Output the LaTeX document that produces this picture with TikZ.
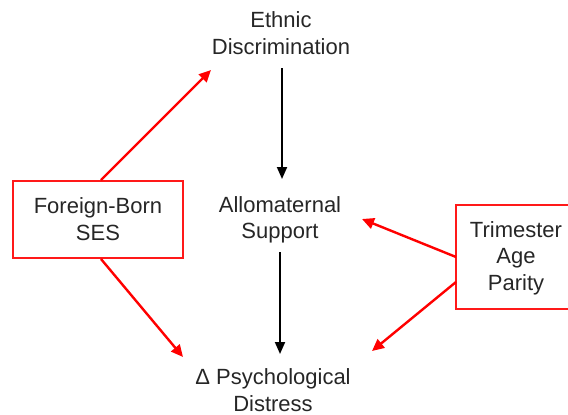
\documentclass[tikz,border=0pt]{standalone}
\usepackage{fontspec}
\setmainfont{Liberation Sans}
\usetikzlibrary{arrows.meta}
\begin{document}
\begin{tikzpicture}[x=1pt,y=-1pt,
  lbl/.style={align=center,font=\fontsize{22}{26.5}\selectfont,text=black!85,inner sep=0pt},
  redbox/.style={draw=red!90!white,line width=1.1pt,inner sep=0pt},
  redarr/.style={draw=red,line width=2.4pt,-{Triangle[length=12pt,width=11pt]}},
  blkarr/.style={draw=black,line width=1.9pt,-{Triangle[length=12pt,width=10pt]}}]
\useasboundingbox (0,0) rectangle (568,415);
% boxes
\draw[redbox] (13,181) rectangle (183,258);
\draw[redbox] (456,205) rectangle (585,309);
% labels
\node[lbl] (eth) at (281,33) {Ethnic\\Discrimination};
\node[lbl] (allo) at (280,220) {Allomaternal\\Support};
\node[lbl] (psy) at (273,390) {Δ Psychological\\Distress};
\node[lbl] (fb) at (98,219) {Foreign-Born\\SES};
\node[lbl] (tri) at (516,258) {Trimester\\Age\\Parity};
% connector end points
\coordinate (fbTop) at (101,180);
\coordinate (fbBot) at (101,259);
\coordinate (triA) at (456,257);
\coordinate (triB) at (456,282);
\coordinate (ethTip) at (211,70);
\coordinate (psyTipL) at (183,357);
\coordinate (alloTipR) at (362,219);
\coordinate (psyTipR) at (372,351);
\coordinate (ethBot) at (282,68);
\coordinate (alloTop) at (282,179);
\coordinate (alloBot) at (280,252);
\coordinate (psyTop) at (280,354);
% connectors
\draw[blkarr] (ethBot) -- (alloTop);
\draw[blkarr] (alloBot) -- (psyTop);
\draw[redarr] (fbTop) -- (ethTip);
\draw[redarr] (fbBot) -- (psyTipL);
\draw[redarr] (triA) -- (alloTipR);
\draw[redarr] (triB) -- (psyTipR);
\end{tikzpicture}
\end{document}
